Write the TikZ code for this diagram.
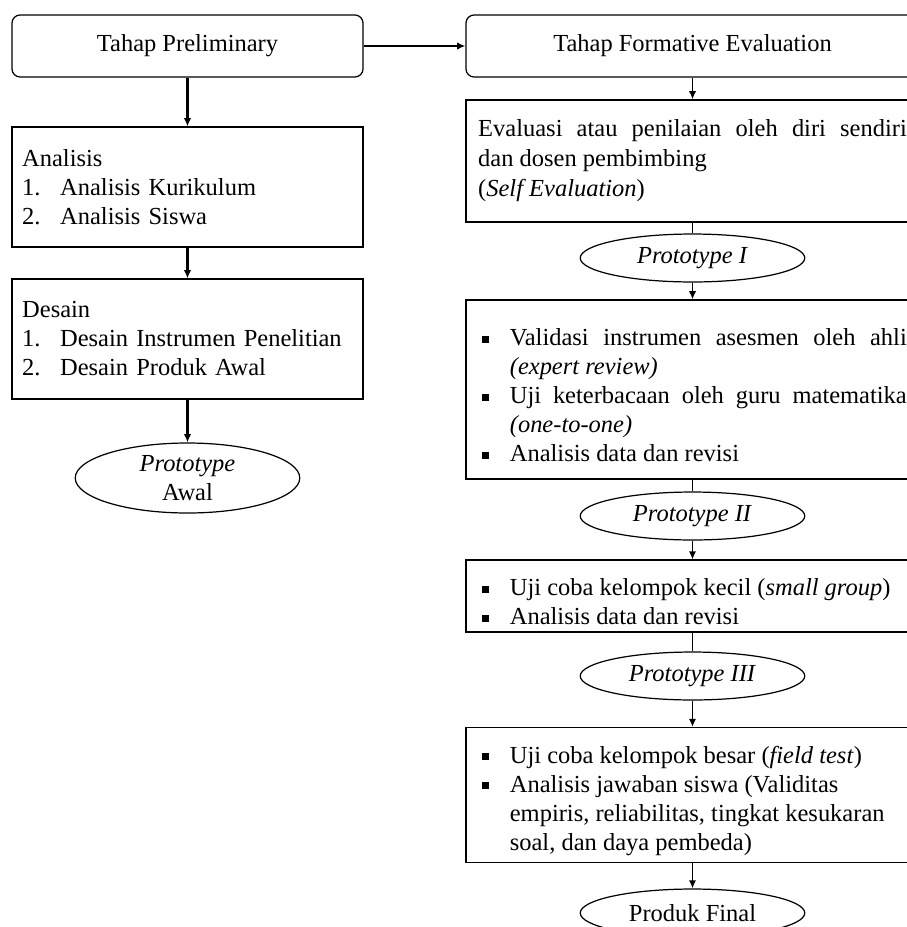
\documentclass[tikz,border=0pt]{standalone}
\usepackage{fontspec}
\setmainfont{Liberation Serif}
\usepackage{tikz}
\usetikzlibrary{
    arrows.meta,
    positioning,
    shapes.geometric
}

\newcommand{\sqitem}[1]{\par\noindent\hangindent=15.5pt\hangafter=1%
    \makebox[15.5pt][l]{\hspace{2pt}\raisebox{1.6pt}{\rule{3.3pt}{3.3pt}}}#1\par}
\newcommand{\numitem}[2]{\makebox[18.6pt][l]{#1}#2}

\begin{document}
\begin{tikzpicture}[
    x=0.49pt, y=-0.49pt,
    every node/.style={
        font=\fontsize{12pt}{14.2pt}\selectfont,
        line width=0.6pt
    },
    stage/.style={draw, rounded corners=4pt, minimum height=30.4pt, align=center},
    leftbox/.style={draw, text width=162pt, inner xsep=5pt, minimum height=58.8pt, align=left},
    rightbox/.style={draw, text width=210pt, inner xsep=6pt, align=justify},
    proto/.style={draw, ellipse, minimum width=110pt, minimum height=23.5pt, inner sep=0pt, align=center},
    flow/.style={draw, line width=0.8pt, -{Latex[length=4pt, width=3.6pt]}},
    link/.style={draw, line width=0.8pt}
]
\clip (0,0) rectangle (907,927);

% kolom kiri
\node[stage, minimum width=172pt] (prelim) at (187.5,46) {Tahap Preliminary};
\node[leftbox] (analisis) at (187.5,187) {Analisis\\
    \numitem{1.}{Analisis Kurikulum}\\
    \numitem{2.}{Analisis Siswa}};
\node[leftbox] (desain) at (187.5,339) {Desain\\
    \numitem{1.}{Desain Instrumen Penelitian}\\
    \numitem{2.}{Desain Produk Awal}};
\node[proto, minimum height=34.3pt] (protoawal) at (187.5,478) {\textit{Prototype}\\ Awal};

% kolom kanan
\node[stage, minimum width=222pt] (formatif) at (692.5,46) {Tahap Formative Evaluation};
\node[rightbox, minimum height=59.8pt, font=\fontsize{12pt}{14.7pt}\selectfont] (selfeval) at (692.5,161)
    {Evaluasi atau penilaian oleh diri sendiri\linebreak
    dan dosen pembimbing\\ (\textit{Self Evaluation})};
\node[proto] (protoi) at (692.5,258) {\textit{Prototype I}};
\node[rightbox, minimum height=87.7pt] (validasi) at (692.5,389.5) {%
    \sqitem{Validasi instrumen asesmen oleh ahli\linebreak \textit{(expert review)}}
    \sqitem{Uji keterbacaan oleh guru matematika\linebreak \textit{(one-to-one)}}
    \sqitem{Analisis data dan revisi}};
\node[proto] (protoii) at (692.5,516) {\textit{Prototype II}};
\node[rightbox, minimum height=33.3pt] (kecil) at (692.5,596) {%
    \sqitem{Uji coba kelompok kecil (\textit{small group})}
    \sqitem{Analisis data dan revisi}};
\node[proto] (protoiii) at (692.5,676) {\textit{Prototype III}};
\node[rightbox, minimum height=65.7pt] (besar) at (692.5,795) {%
    \sqitem{Uji coba kelompok besar (\textit{field test})}
    \sqitem{Analisis jawaban siswa (Validitas\hfil\break
        empiris, reliabilitas, tingkat kesukaran\hfil\break
        soal, dan daya pembeda)}};
\node[proto] (final) at (692.5,913) {Produk Final};

% panah
\draw[flow, line width=1.3pt] (prelim) -- (formatif);
\draw[flow, line width=1pt] (prelim) -- (analisis);
\draw[flow, line width=1pt] (analisis) -- (desain);
\draw[flow, line width=1pt] (desain) -- (protoawal);
\draw[flow] (formatif) -- (selfeval);
\draw[link] (selfeval) -- (protoi);
\draw[flow] (protoi) -- (validasi);
\draw[link] (validasi) -- (protoii);
\draw[flow] (protoii) -- (kecil);
\draw[link] (kecil) -- (protoiii);
\draw[flow] (protoiii) -- (besar);
\draw[flow] (besar) -- (final);

\end{tikzpicture}
\end{document}
